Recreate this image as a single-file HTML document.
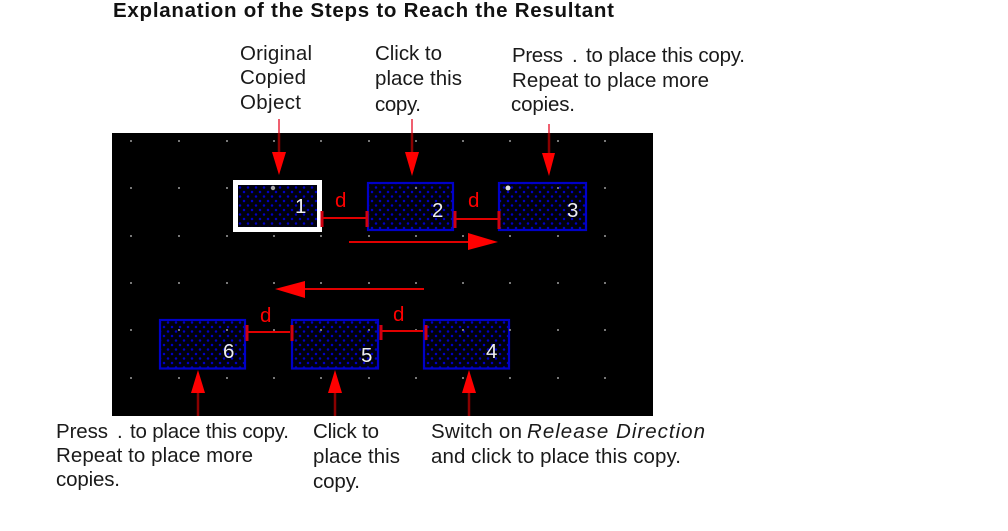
<!DOCTYPE html>
<html><head><meta charset="utf-8"><style>
html,body{margin:0;padding:0;background:#fff}
svg{display:block}
text{font-family:"Liberation Sans",sans-serif}
.t{font-size:20.5px;fill:#1a1a1a}
.n{font-size:20.5px;fill:#eee}
.d{font-size:20.5px;fill:#f00}
</style></head><body>
<svg width="1008" height="531" viewBox="0 0 1008 531" xmlns="http://www.w3.org/2000/svg">
<defs>
<pattern id="h" x="2" y="1" width="8" height="9" patternUnits="userSpaceOnUse">
<rect width="8" height="9" fill="#00000c"/>
<circle cx="2" cy="2" r="1.25" fill="#0000c4"/>
<circle cx="6" cy="6.500" r="1.25" fill="#0000c4"/>
</pattern>
</defs>
<rect width="1008" height="531" fill="#fff"/>
<text x="113" y="17" textLength="501" lengthAdjust="spacing" style="font-size:20.5px;font-weight:bold" fill="#111">Explanation of the Steps to Reach the Resultant</text>

<rect x="112" y="133" width="541" height="283" fill="#000"/>

<rect x="235.500" y="182.500" width="84" height="47" fill="url(#h)" stroke="#fff" stroke-width="5"/>
<g fill="url(#h)" stroke="#0000c8" stroke-width="2.200">
<rect x="368" y="183" width="85" height="47"/>
<rect x="499" y="183" width="87" height="47"/>
<rect x="160" y="320" width="85" height="48.500"/>
<rect x="292" y="320" width="86" height="48.500"/>
<rect x="424" y="320" width="85" height="48.500"/>
</g>
<g fill="#777">
<path d="M130 140h2v2h-2zM178 140h2v2h-2zM226 140h2v2h-2zM273 140h2v2h-2zM320 140h2v2h-2zM368 140h2v2h-2zM415 140h2v2h-2zM462 140h2v2h-2zM509 140h2v2h-2zM557 140h2v2h-2zM604 140h2v2h-2z"/>
<path d="M130 187h2v2h-2zM178 187h2v2h-2zM226 187h2v2h-2zM415 187h2v2h-2zM557 187h2v2h-2zM604 187h2v2h-2z"/>
<path d="M130 235h2v2h-2zM178 235h2v2h-2zM226 235h2v2h-2zM273 235h2v2h-2zM320 235h2v2h-2zM368 235h2v2h-2zM415 235h2v2h-2zM462 235h2v2h-2zM509 235h2v2h-2zM557 235h2v2h-2zM604 235h2v2h-2z"/>
<path d="M130 282h2v2h-2zM178 282h2v2h-2zM226 282h2v2h-2zM273 282h2v2h-2zM320 282h2v2h-2zM368 282h2v2h-2zM415 282h2v2h-2zM462 282h2v2h-2zM509 282h2v2h-2zM557 282h2v2h-2zM604 282h2v2h-2z"/>
<path d="M130 329h2v2h-2zM178 329h2v2h-2zM226 329h2v2h-2zM273 329h2v2h-2zM320 329h2v2h-2zM368 329h2v2h-2zM415 329h2v2h-2zM462 329h2v2h-2zM509 329h2v2h-2zM557 329h2v2h-2zM604 329h2v2h-2z"/>
<path d="M130 377h2v2h-2zM178 377h2v2h-2zM226 377h2v2h-2zM273 377h2v2h-2zM320 377h2v2h-2zM368 377h2v2h-2zM415 377h2v2h-2zM462 377h2v2h-2zM509 377h2v2h-2zM557 377h2v2h-2zM604 377h2v2h-2z"/>
</g>
<circle cx="273" cy="188" r="2.200" fill="#aaa"/>
<circle cx="508" cy="188" r="2.500" fill="#ddd"/>

<text class="n" x="295" y="213">1</text>
<text class="n" x="432" y="217">2</text>
<text class="n" x="567" y="217">3</text>
<text class="n" x="223" y="358">6</text>
<text class="n" x="361" y="362">5</text>
<text class="n" x="486" y="358">4</text>

<g stroke="#e00000" stroke-width="2" fill="none">
<path d="M322 218H366M455 219H498M248 332H290M381 331H423M349 242H470M424 289H300"/>
</g>
<g stroke="#d00010" stroke-width="3" fill="none">
<path d="M322 211V227M367 211V227M455 211V228M499 211V229M247 325V341M292 325V341M381 325V340M426 325V340"/>
</g>
<g fill="#f00">
<path d="M468 233V250L498 242Z"/>
<path d="M305 281V298L275 289Z"/>
<path d="M272 152H286L279 175ZM405 152H419L412 176ZM542 153H555L549 176Z"/>
<path d="M191 393H205L198 370ZM328 393H342L335 370ZM462 393H476L469 370Z"/>
</g>
<g stroke="#8a0000" stroke-width="2.500" fill="none">
<path d="M279 133V152M412 133V152M549 133V153M198 393V416M335 393V416M469 393V416"/>
</g>
<g stroke="#f06070" stroke-width="2" fill="none">
<path d="M279 119V133M412 119V133M549 124V133"/>
</g>

<text class="d" x="335" y="207">d</text>
<text class="d" x="468" y="207">d</text>
<text class="d" x="260" y="322">d</text>
<text class="d" x="393" y="321">d</text>

<g>
<text class="t" x="240" y="60" textLength="72">Original</text>
<text class="t" x="240" y="84" textLength="66">Copied</text>
<text class="t" x="240" y="109" textLength="61">Object</text>
<text class="t" x="375" y="60" textLength="67">Click to</text>
<text class="t" x="375" y="85" textLength="87">place this</text>
<text class="t" x="375" y="111" textLength="46">copy.</text>
<text class="t" x="512" y="62" textLength="51">Press</text>
<text class="t" x="572" y="62">.</text>
<text class="t" x="586" y="62" textLength="159">to place this copy.</text>
<text class="t" x="512" y="87" textLength="197">Repeat to place more</text>
<text class="t" x="511" y="111" textLength="64">copies.</text>
<text class="t" x="56" y="438" textLength="52">Press</text>
<text class="t" x="117" y="438">.</text>
<text class="t" x="130" y="438" textLength="159">to place this copy.</text>
<text class="t" x="56" y="462" textLength="197">Repeat to place more</text>
<text class="t" x="56" y="486" textLength="64">copies.</text>
<text class="t" x="313" y="438" textLength="66">Click to</text>
<text class="t" x="313" y="463" textLength="87">place this</text>
<text class="t" x="313" y="488" textLength="47">copy.</text>
<text class="t" x="431" y="438" textLength="91">Switch on</text>
<text class="t" x="527" y="438" textLength="178" font-style="italic">Release Direction</text>
<text class="t" x="431" y="463" textLength="250">and click to place this copy.</text>
</g>
</svg>
</body></html>
